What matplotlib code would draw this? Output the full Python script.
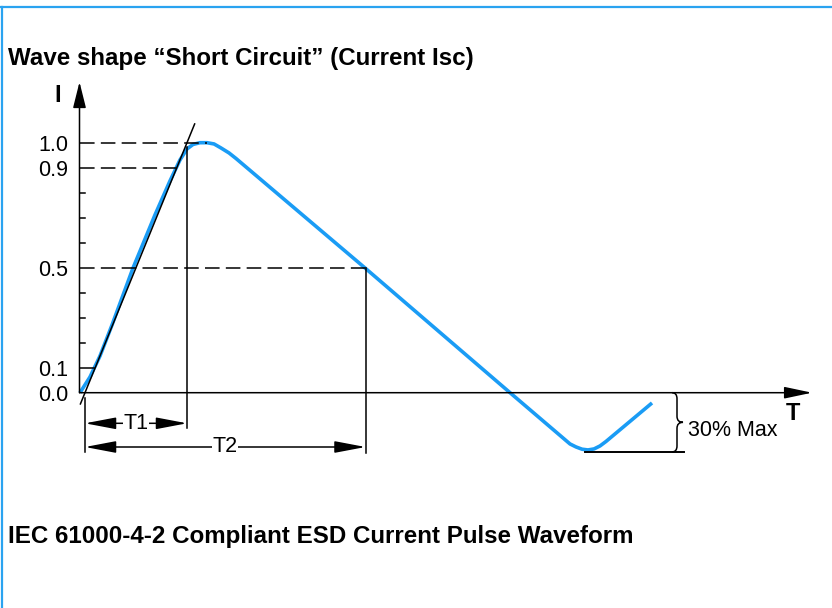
import matplotlib
matplotlib.use("Agg")
import matplotlib.pyplot as plt
import numpy as np
from matplotlib.path import Path
from matplotlib.patches import PathPatch
from matplotlib.lines import Line2D

plt.rcParams['font.family'] = ['Liberation Sans', 'DejaVu Sans']
plt.rcParams['lines.scale_dashes'] = False

BLUE   = "#1a9cf5"
BORDER = "#2aa3f0"

# ── Data (T in units of T1, I normalised to peak) ──────────────────────────
wave_t = [-0.049, 0.049, 0.147, 0.265, 0.471, 0.686, 0.833, 0.931, 1.0,
          1.059, 1.127, 1.196, 1.265, 1.333, 1.412, 1.480, 2.745, 4.167,
          4.755, 4.814, 4.873, 4.931, 4.990, 5.049, 5.108, 5.559]
wave_i = [0.0, 0.063, 0.147, 0.271, 0.499, 0.711, 0.847, 0.931, 0.975,
          0.993, 1.0, 1.0, 0.995, 0.979, 0.959, 0.937, 0.499, 0.0,
          -0.205, -0.217, -0.226, -0.229, -0.225, -0.213, -0.195, -0.041]

T1 = 1.0
T2 = 2.75
level_labels = ["1.0", "0.9", "0.5", "0.1", "0.0"]
level_values = [1.0, 0.9, 0.5, 0.1, 0.0]
minor_ticks  = [0.2, 0.3, 0.4, 0.6, 0.7, 0.8]
undershoot = -0.237   # "30% Max"

# ── Canvas: whole-figure axes, 1 T1 = 102 px, 1.0 I = 250 px ─────────────────
W, H = 832, 608
X0, SX = 85, 102.0
Y0, SY = 392.7, 250.0

fig = plt.figure(figsize=(8.32, 6.08), dpi=100)
ax = fig.add_axes([0, 0, 1, 1])
ax.set_xlim(-X0 / SX, (W - X0) / SX)
ax.set_ylim((Y0 - H) / SY, Y0 / SY)
ax.axis('off')


def px(d):
    return d / SX


def py(d):
    return d / SY


def tx(p):          # pixel column -> T
    return (p - X0) / SX


def iy(p):          # pixel row -> I
    return (Y0 - p) / SY


K = dict(color='black', lw=1.1, zorder=3)
ax_t = tx(79.5)
rise_t, rise_i = wave_t[:11], wave_i[:11]

# axes with arrow heads
ax.annotate('', xy=(ax_t, iy(82)), xytext=(ax_t, 0),
            arrowprops=dict(arrowstyle='-|>,head_length=16,head_width=4',
                            mutation_scale=1, lw=1.1, color='black',
                            shrinkA=0, shrinkB=0))
ax.annotate('', xy=(tx(812), 0), xytext=(ax_t, 0),
            arrowprops=dict(arrowstyle='-|>,head_length=17,head_width=3.6',
                            mutation_scale=1, lw=1.1, color='black',
                            shrinkA=0, shrinkB=0))
ax.text(tx(58), iy(95), "I", ha='center', va='center', fontsize=17,
        fontweight='bold')
ax.text(tx(793), iy(413), "T", ha='center', va='center', fontsize=17,
        fontweight='bold')

# ticks + labels
for v in minor_ticks:
    ax.plot([ax_t, ax_t + px(5)], [v, v], **K)
ax.plot([ax_t, np.interp(0.1, rise_i, rise_t)], [0.1, 0.1], **K)
for lab, v in zip(level_labels, level_values):
    ax.text(tx(68), v - py(3), lab, ha='right', va='center', fontsize=15.5)

# dashed reference levels
dashed = [(1.0, 1.2), (0.9, np.interp(0.9, rise_i, rise_t)), (0.5, T2)]
for lv, end in dashed:
    ax.plot([ax_t, end], [lv, lv], color='black', lw=1.1, dashes=(10.5, 4.5),
            zorder=3)

# waveform
ax.plot(wave_t, wave_i, color=BLUE, lw=2.6, solid_joinstyle='round',
        solid_capstyle='butt', zorder=2)

# rise-time tangent through (0, 0) and (T1, 1.0)
ax.plot([-0.045, 1.075], [-0.045 / T1, 1.075 / T1], **K)

# vertical markers
ax.plot([0, 0], [iy(398), iy(452)], **K)
ax.plot([T1, T1], [iy(147), iy(428)], **K)
ax.plot([T2, T2], [0.5, iy(453)], **K)


def dim(t0, t1, y, label):
    ax.annotate('', xy=(t1, y), xytext=(t0, y),
                arrowprops=dict(arrowstyle='<|-|>,head_length=19,head_width=3.6',
                                mutation_scale=1, lw=1.1, color='black',
                                shrinkA=0, shrinkB=0), zorder=3)
    ax.text((t0 + t1) / 2, y, label, ha='center', va='center', fontsize=15.5,
            zorder=4, bbox=dict(facecolor='white', edgecolor='none', pad=0.5))


dim(0, T1, iy(423.3), "T1")
dim(0, T2, iy(447), "T2")

# undershoot floor + brace
ax.plot([tx(585), tx(684)], [undershoot, undershoot], color='black', lw=1.4,
        zorder=3)
bx0, bx1, bx2 = tx(672), tx(677), tx(683)
top, bot = 0.0, undershoot
mid = (top + bot) / 2
r = py(6)
verts = [(bx0, top), (bx1, top), (bx1, top - r),
         (bx1, mid + r), (bx1, mid), (bx2, mid),
         (bx1, mid), (bx1, mid - r),
         (bx1, bot + r), (bx1, bot), (bx0, bot)]
codes = [Path.MOVETO, Path.CURVE3, Path.CURVE3,
         Path.LINETO, Path.CURVE3, Path.CURVE3,
         Path.CURVE3, Path.CURVE3,
         Path.LINETO, Path.CURVE3, Path.CURVE3]
ax.add_patch(PathPatch(Path(verts, codes), facecolor='none', edgecolor='black',
                       lw=1.1, zorder=3))
ax.text(tx(688), iy(430), "30% Max", ha='left', va='center', fontsize=15.5)

# titles
fig.text(8 / W, 1 - 58 / H, "Wave shape \u201cShort Circuit\u201d (Current Isc)",
         ha='left', va='center', fontsize=17.35, fontweight='bold')
fig.text(8 / W, 1 - 537 / H, "IEC 61000-4-2 Compliant ESD Current Pulse Waveform",
         ha='left', va='center', fontsize=17.35, fontweight='bold')

# frame (top + left)
fig.add_artist(Line2D([0, 1], [1 - 6.5 / H, 1 - 6.5 / H], transform=fig.transFigure,
                      color=BORDER, lw=1.6))
fig.add_artist(Line2D([1.5 / W, 1.5 / W], [0, 1 - 6.5 / H], transform=fig.transFigure,
                      color=BORDER, lw=1.6))

fig.savefig("out.png", dpi=100, facecolor='white')
